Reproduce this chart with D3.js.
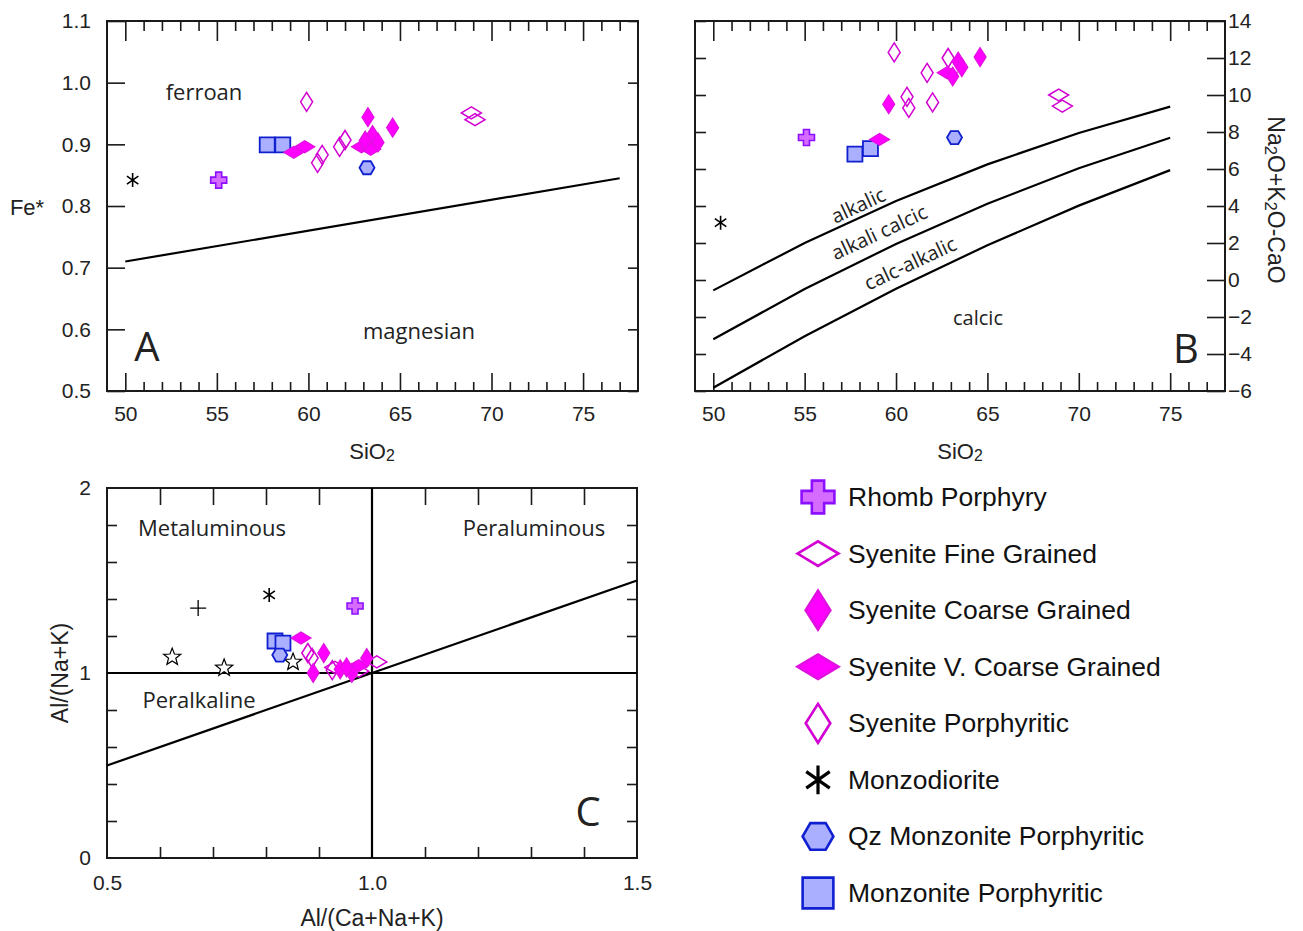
<!DOCTYPE html>
<html>
<head>
<meta charset="utf-8">
<script src="https://cdn.jsdelivr.net/npm/d3@7"></script>
<style>
  body { margin: 0; background: #fff; }
  svg { display: block; }
</style>
</head>
<body>
<svg id="chart" width="1303" height="931"></svg>
<script>
// ---------- Tick values ----------
const sioMajor = [50, 55, 60, 65, 70, 75];
const sioMinor = [51, 52, 53, 54, 56, 57, 58, 59, 61, 62, 63, 64, 66, 67, 68, 69, 71, 72, 73, 74, 76, 77];
const feTicks = [0.5, 0.6, 0.7, 0.8, 0.9, 1.0, 1.1];
const maliTicks = [-6, -4, -2, 0, 2, 4, 6, 8, 10, 12, 14];
const asiTicks = [0.6, 0.7, 0.8, 0.9, 1.1, 1.2, 1.3, 1.4];
const asiLabels = [0.5, 1.0, 1.5];
const aiTicks = [0.2, 0.4, 0.6, 0.8, 1.2, 1.4, 1.6, 1.8];
const aiLabels = [0, 1, 2];

// ---------- Classification boundaries ----------
// A: ferroan / magnesian divide (SiO2, Fe*)
const feBoundary = [[50, 0.71], [77, 0.845]];
// B: MALI divides (SiO2, Na2O+K2O-CaO)
const maliSi = [50, 55, 60, 65, 70, 75];
const maliAlkalic = [-0.56, 2.00, 4.27, 6.25, 7.95, 9.37];
const maliAlkaliCalcic = [-3.20, -0.49, 1.95, 4.12, 6.04, 7.69];
const maliCalcAlkalic = [-5.82, -3.04, -0.47, 1.88, 4.02, 5.94];
// C: alumina saturation divides (A/CNK, A/NK)
const asiBoundaries = [
  [[1, 0], [1, 2]],
  [[0.5, 1], [1.5, 1]],
  [[0.5, 0.5], [1.5, 1.5]]
];

// ---------- Samples: panel A (SiO2, Fe*) ----------
const aRhomb = [[55.1, 0.842]];
const aFine = [[68.9, 0.951], [69.1, 0.940]];
const aCoarse = [[63.25, 0.944], [64.6, 0.927], [63.5, 0.915], [63.1, 0.906], [63.8, 0.903]];
const aVCoarse = [[59.2, 0.887], [59.8, 0.896], [62.9, 0.896], [63.4, 0.892]];
const aPorph = [[59.9, 0.969], [60.5, 0.870], [60.75, 0.883], [61.7, 0.896], [62.0, 0.907]];
const aMonzodiorite = [[50.4, 0.842]];
const aQzMonz = [[63.2, 0.862]];
const aMonz = [[57.75, 0.899], [58.6, 0.899]];

// ---------- Samples: panel B (SiO2, Na2O+K2O-CaO) ----------
const bRhomb = [[55.1, 7.7]];
const bFine = [[68.9, 10.0], [69.1, 9.4]];
const bCoarse = [[59.6, 9.5], [64.6, 12.05], [63.4, 11.8], [63.6, 11.5], [63.1, 11.0]];
const bVCoarse = [[59.1, 7.6], [62.8, 11.2]];
const bPorph = [[59.9, 12.3], [61.7, 11.2], [60.6, 9.9], [60.7, 9.3], [62.0, 9.6], [62.85, 12.0]];
const bMonzodiorite = [[50.4, 3.1]];
const bQzMonz = [[63.2, 7.7]];
const bMonz = [[57.75, 6.8], [58.6, 7.1]];

// ---------- Samples: panel C (A/CNK, A/NK) ----------
const cRhomb = [[0.968, 1.362]];
const cFine = [[1.009, 1.06], [0.93, 1.03], [0.975, 1.01]];
const cCoarse = [[0.909, 1.108], [0.889, 1.0], [0.94, 1.02], [0.962, 1.0], [0.99, 1.08], [0.952, 1.03]];
const cVCoarse = [[0.866, 1.189], [0.975, 1.04]];
const cPorph = [[0.879, 1.108], [0.887, 1.081], [0.925, 1.016]];
const cMonzodiorite = [[0.806, 1.422]];
const cQzMonz = [[0.826, 1.097]];
const cMonz = [[0.817, 1.173], [0.832, 1.162]];
const cCross = [[0.672, 1.351]];
const cStars = [[0.623, 1.086], [0.721, 1.027], [0.851, 1.059]];

// ---------- Legend ----------
const legendKeys = ['rhomb', 'fine', 'coarse', 'vcoarse', 'porph', 'monzodiorite', 'qz', 'monz'];
const legendLabels = ['Rhomb Porphyry', 'Syenite Fine Grained', 'Syenite Coarse Grained',
  'Syenite V. Coarse Grained', 'Syenite Porphyritic', 'Monzodiorite',
  'Qz Monzonite Porphyritic', 'Monzonite Porphyritic'];

const svg = d3.select('#chart');
const INK = '#1a1a1a';
const TICKFONT = '"Liberation Sans", Arial, sans-serif';
const REGFONT = '"Open Sans", "Noto Sans", sans-serif';
const TICKSIZE = 21;
const TITLESIZE = 22;

// ---------- Marker glyphs ----------
function poly(pts) { return 'M' + pts.map(p => p.join(',')).join('L') + 'Z'; }
const markerStyles = {
  rhomb: { fill: '#d56cff', stroke: '#8c10ff', sw: 1.6 },
  fine: { fill: 'none', stroke: '#d200d2', sw: 1.5 },
  coarse: { fill: '#ff00ff', stroke: '#e010e0', sw: 1.2 },
  vcoarse: { fill: '#ff00ff', stroke: '#e010e0', sw: 1.2 },
  porph: { fill: 'none', stroke: '#d200d2', sw: 1.5 },
  monzodiorite: { fill: 'none', stroke: '#000', sw: 1.6 },
  qz: { fill: '#aab0ff', stroke: '#1020d0', sw: 1.8 },
  monz: { fill: '#aab0ff', stroke: '#1020d0', sw: 1.8 },
  cross: { fill: 'none', stroke: '#000', sw: 1.3 },
  star: { fill: '#fff', stroke: '#000', sw: 1.2 }
};
function glyph(key, s) {
  switch (key) {
    case 'rhomb': {
      const L = 8 * s, w = 3 * s;
      return poly([[-w, -L], [w, -L], [w, -w], [L, -w], [L, w], [w, w], [w, L], [-w, L], [-w, w], [-L, w], [-L, -w], [-w, -w]]);
    }
    case 'fine':
    case 'vcoarse': {
      const w = 10 * s, h = 6 * s;
      return poly([[-w, 0], [0, -h], [w, 0], [0, h]]);
    }
    case 'coarse':
    case 'porph': {
      const w = 6 * s, h = 9.5 * s;
      return poly([[-w, 0], [0, -h], [w, 0], [0, h]]);
    }
    case 'qz': {
      const w = 7.5 * s, h = 6.5 * s;
      return poly([[-w, 0], [-w / 2, -h], [w / 2, -h], [w, 0], [w / 2, h], [-w / 2, h]]);
    }
    case 'monz': {
      const a = 7.5 * s;
      return poly([[-a, -a], [a, -a], [a, a], [-a, a]]);
    }
    case 'monzodiorite': {
      const r = 7 * s;
      let d = `M0,${-r}L0,${r}`;
      [35, -35].forEach(a => {
        const rad = a * Math.PI / 180, dx = r * Math.cos(rad), dy = r * Math.sin(rad);
        d += `M${-dx},${-dy}L${dx},${dy}`;
      });
      return d;
    }
    case 'cross': {
      const r = 8 * s;
      return `M${-r},0L${r},0M0,${-r}L0,${r}`;
    }
    case 'star': {
      const pts = [];
      for (let i = 0; i < 10; i++) {
        const r = (i % 2 === 0 ? 9 : 3.8) * s;
        const a = -Math.PI / 2 + i * Math.PI / 5;
        pts.push([r * Math.cos(a), r * Math.sin(a)]);
      }
      return poly(pts);
    }
  }
}
function drawPoints(g, data, key, x, y, s = 1) {
  const st = markerStyles[key];
  g.selectAll(null).data(data).join('path')
    .attr('transform', d => `translate(${x(d[0])},${y(d[1])})`)
    .attr('d', glyph(key, s))
    .attr('fill', st.fill)
    .attr('stroke', st.stroke)
    .attr('stroke-width', st.sw)
    .attr('stroke-linejoin', 'miter');
}

// ---------- Frame + inward ticks ----------
function inwardTicks(g, axisFn, scale, values, len, tx, ty) {
  g.append('g').attr('transform', `translate(${tx},${ty})`)
    .call(axisFn(scale).tickValues(values).tickSizeInner(-len).tickSizeOuter(0).tickFormat(''))
    .call(a => a.select('.domain').remove())
    .call(a => a.selectAll('line').attr('stroke', INK).attr('stroke-width', 1.6));
}
function tickLabels(g, axisFn, scale, values, fmt, pad, tx, ty, size) {
  g.append('g').attr('transform', `translate(${tx},${ty})`)
    .call(axisFn(scale).tickValues(values).tickSize(0).tickPadding(pad).tickFormat(fmt))
    .call(a => a.select('.domain').remove())
    .call(a => a.selectAll('text').attr('font-family', TICKFONT).attr('font-size', size).attr('fill', '#222'));
}
function frame(g, x, y) {
  const [x0, x1] = x.range(), [y0, y1] = y.range();
  g.append('rect').attr('x', x0).attr('y', y1).attr('width', x1 - x0).attr('height', y0 - y1)
    .attr('fill', 'none').attr('stroke', INK).attr('stroke-width', 2);
}
function label(g, txt, x, y, opts = {}) {
  const t = g.append('text').attr('x', x).attr('y', y)
    .attr('font-family', opts.font || REGFONT).attr('font-size', opts.size || 22)
    .attr('fill', opts.fill || '#222').attr('text-anchor', opts.anchor || 'middle')
    .attr('dominant-baseline', 'central').text(txt);
  if (opts.rotate !== undefined) t.attr('transform', `rotate(${opts.rotate},${x},${y})`);
  return t;
}
function subLabel(g, parts, x, y, size, rotate) {
  const t = g.append('text').attr('x', x).attr('y', y)
    .attr('font-family', TICKFONT).attr('font-size', size).attr('fill', '#222')
    .attr('text-anchor', 'middle').attr('dominant-baseline', 'central');
  if (rotate !== undefined) t.attr('transform', `rotate(${rotate},${x},${y})`);
  parts.forEach(([s, sub]) => {
    const ts = t.append('tspan').text(s);
    if (sub) ts.attr('baseline-shift', '-30%').attr('font-size', size * 0.72);
  });
}
const lineGen = (x, y) => d3.line().x(d => x(d[0])).y(d => y(d[1]));

// ================= Panel A =================
const xA = d3.scaleLinear([49, 78], [107, 638]);
const yA = d3.scaleLinear([0.5, 1.1], [391, 21]);
const gA = svg.append('g');
frame(gA, xA, yA);
inwardTicks(gA, d3.axisTop, xA, sioMajor, 20, 0, 21);
inwardTicks(gA, d3.axisTop, xA, sioMinor, 10, 0, 21);
inwardTicks(gA, d3.axisBottom, xA, sioMajor, 18, 0, 391);
inwardTicks(gA, d3.axisBottom, xA, sioMinor, 9, 0, 391);
inwardTicks(gA, d3.axisLeft, yA, feTicks, 18, 107, 0);
inwardTicks(gA, d3.axisRight, yA, feTicks, 10, 638, 0);
tickLabels(gA, d3.axisBottom, xA, sioMajor, d3.format('d'), 15, 0, 391, TICKSIZE);
tickLabels(gA, d3.axisLeft, yA, feTicks, d3.format('.1f'), 16, 107, 0, TICKSIZE);
gA.append('path').datum(feBoundary).attr('d', lineGen(xA, yA))
  .attr('fill', 'none').attr('stroke', '#000').attr('stroke-width', 2.2);
label(gA, 'ferroan', 204, 91);
label(gA, 'magnesian', 419, 330);
label(gA, 'A', 147, 345, { size: 40 });
label(gA, 'Fe*', 27, 207, { font: TICKFONT, size: TITLESIZE });
subLabel(gA, [['SiO'], ['2', true]], 372, 451, TITLESIZE);
drawPoints(gA, aMonzodiorite, 'monzodiorite', xA, yA);
drawPoints(gA, aRhomb, 'rhomb', xA, yA);
drawPoints(gA, aMonz, 'monz', xA, yA);
drawPoints(gA, aQzMonz, 'qz', xA, yA);
drawPoints(gA, aPorph, 'porph', xA, yA);
drawPoints(gA, aFine, 'fine', xA, yA);
drawPoints(gA, aVCoarse, 'vcoarse', xA, yA);
drawPoints(gA, aCoarse, 'coarse', xA, yA);

// ================= Panel B =================
const xB = d3.scaleLinear([49, 78], [695, 1225]);
const yB = d3.scaleLinear([-6, 14], [391, 21]);
const gB = svg.append('g');
frame(gB, xB, yB);
inwardTicks(gB, d3.axisTop, xB, sioMajor, 20, 0, 21);
inwardTicks(gB, d3.axisTop, xB, sioMinor, 10, 0, 21);
inwardTicks(gB, d3.axisBottom, xB, sioMajor, 18, 0, 391);
inwardTicks(gB, d3.axisBottom, xB, sioMinor, 9, 0, 391);
inwardTicks(gB, d3.axisLeft, yB, maliTicks, 11, 695, 0);
inwardTicks(gB, d3.axisRight, yB, maliTicks, 18, 1225, 0);
tickLabels(gB, d3.axisBottom, xB, sioMajor, d3.format('d'), 15, 0, 391, TICKSIZE);
tickLabels(gB, d3.axisRight, yB, maliTicks, d3.format('d'), 3, 1225, 0, TICKSIZE);
[maliAlkalic, maliAlkaliCalcic, maliCalcAlkalic].forEach(vals => {
  gB.append('path').datum(maliSi.map((s, i) => [s, vals[i]])).attr('d', lineGen(xB, yB))
    .attr('fill', 'none').attr('stroke', '#000').attr('stroke-width', 2.2);
});
label(gB, 'alkalic', 858, 205, { size: 20, rotate: -25 });
label(gB, 'alkali calcic', 879, 232, { size: 20, rotate: -25 });
label(gB, 'calc-alkalic', 910, 263, { size: 20, rotate: -25 });
label(gB, 'calcic', 978, 317, { size: 20 });
label(gB, 'B', 1186, 347, { size: 40 });
subLabel(gB, [['SiO'], ['2', true]], 960, 451, TITLESIZE);
subLabel(gB, [['Na'], ['2', true], ['O+K'], ['2', true], ['O-CaO']], 1276, 200, 23, 90);
drawPoints(gB, bMonzodiorite, 'monzodiorite', xB, yB);
drawPoints(gB, bRhomb, 'rhomb', xB, yB);
drawPoints(gB, bMonz, 'monz', xB, yB);
drawPoints(gB, bQzMonz, 'qz', xB, yB);
drawPoints(gB, bPorph, 'porph', xB, yB);
drawPoints(gB, bFine, 'fine', xB, yB);
drawPoints(gB, bVCoarse, 'vcoarse', xB, yB);
drawPoints(gB, bCoarse, 'coarse', xB, yB);

// ================= Panel C =================
const xC = d3.scaleLinear([0.5, 1.5], [107, 637]);
const yC = d3.scaleLinear([0, 2], [858, 488]);
const gC = svg.append('g');
frame(gC, xC, yC);
inwardTicks(gC, d3.axisTop, xC, asiTicks, 17, 0, 488);
inwardTicks(gC, d3.axisBottom, xC, asiTicks, 11, 0, 858);
inwardTicks(gC, d3.axisLeft, yC, aiTicks, 10, 107, 0);
inwardTicks(gC, d3.axisRight, yC, aiTicks, 10, 637, 0);
tickLabels(gC, d3.axisBottom, xC, asiLabels, d3.format('.1f'), 17, 0, 858, TICKSIZE);
tickLabels(gC, d3.axisLeft, yC, aiLabels, d3.format('d'), 16, 107, 0, TICKSIZE);
asiBoundaries.forEach(seg => {
  gC.append('path').datum(seg).attr('d', lineGen(xC, yC))
    .attr('fill', 'none').attr('stroke', '#000').attr('stroke-width', 2.2);
});
label(gC, 'Metaluminous', 212, 527);
label(gC, 'Peraluminous', 534, 527);
label(gC, 'Peralkaline', 199, 699);
label(gC, 'C', 588, 810, { size: 40 });
label(gC, 'Al/(Na+K)', 60, 673, { font: TICKFONT, size: 23, rotate: -90 });
label(gC, 'Al/(Ca+Na+K)', 372, 918, { font: TICKFONT, size: 23 });
drawPoints(gC, cCross, 'cross', xC, yC);
drawPoints(gC, cStars, 'star', xC, yC);
drawPoints(gC, cMonzodiorite, 'monzodiorite', xC, yC);
drawPoints(gC, cRhomb, 'rhomb', xC, yC);
drawPoints(gC, cMonz, 'monz', xC, yC);
drawPoints(gC, cQzMonz, 'qz', xC, yC);
drawPoints(gC, cPorph, 'porph', xC, yC);
drawPoints(gC, cFine, 'fine', xC, yC);
drawPoints(gC, cVCoarse, 'vcoarse', xC, yC);
drawPoints(gC, cCoarse, 'coarse', xC, yC);

// ================= Legend =================
const legendY = d3.scalePoint(legendKeys, [497, 893]);
const gL = svg.append('g');
legendKeys.forEach((k, i) => {
  const st = markerStyles[k];
  gL.append('path')
    .attr('transform', `translate(818,${legendY(k)})`)
    .attr('d', glyph(k, 2.05))
    .attr('fill', st.fill === 'none' ? '#fff' : st.fill)
    .attr('stroke', st.stroke)
    .attr('stroke-width', k === 'monzodiorite' ? 3.2 : 2.6);
  gL.append('text').attr('x', 848).attr('y', legendY(k))
    .attr('font-family', TICKFONT).attr('font-size', 26.5).attr('fill', '#111')
    .attr('dominant-baseline', 'central').text(legendLabels[i]);
});
</script>
</body>
</html>
